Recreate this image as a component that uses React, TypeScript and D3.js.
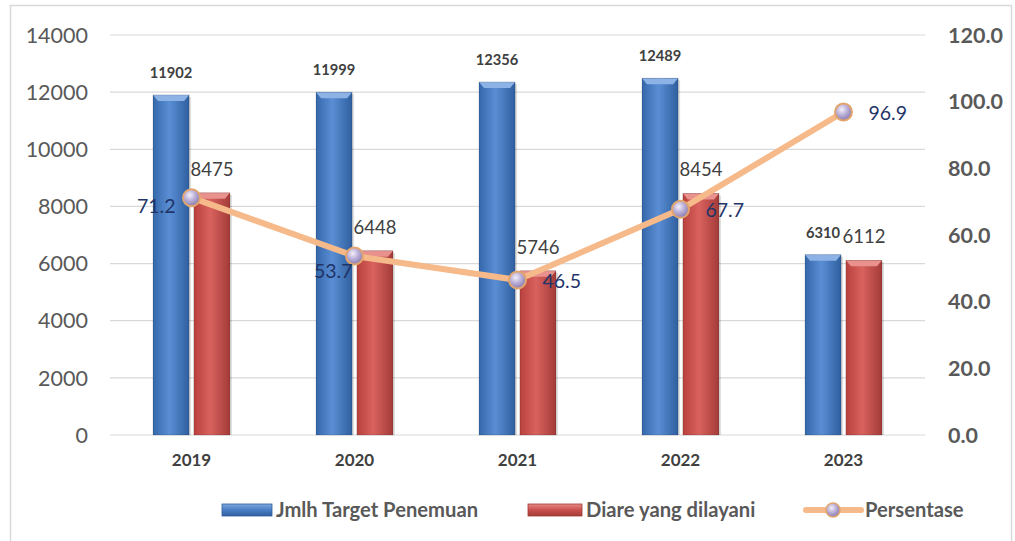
import React from 'react';
import * as d3 from 'd3';

// data
const years = ['2019', '2020', '2021', '2022', '2023'];
const target = [11902, 11999, 12356, 12489, 6310];
const dilayani = [8475, 6448, 5746, 8454, 6112];
const persentase = [71.2, 53.7, 46.5, 67.7, 96.9];
const pctLabelPos = ['left', 'below', 'right', 'right', 'right'];
const leftTicks = [0, 2000, 4000, 6000, 8000, 10000, 12000, 14000];
const rightTicks = [0, 20, 40, 60, 80, 100, 120];

const W = 1015;
const H = 541;
const margin = { top: 35, right: 90, bottom: 106, left: 110 };
const FONT = 'Lato, "Noto Sans", sans-serif';

export default function App() {
  const x = d3.scaleBand().domain(years).range([margin.left, W - margin.right]).padding(0);
  const x1 = d3.scaleBand().domain(['target', 'dilayani']).range([-38.5, 38.5]).paddingInner(0.117);
  const yL = d3.scaleLinear().domain([0, 14000]).range([H - margin.bottom, margin.top]);
  const yR = d3.scaleLinear().domain([0, 120]).range([H - margin.bottom, margin.top]);
  const cx = (yr: string) => (x(yr) || 0) + x.bandwidth() / 2;
  const bw = x1.bandwidth();

  const line = d3.line<number>()
    .x((_, i) => cx(years[i]))
    .y(d => yR(d));

  const bar = (key: string, yr: string, v: number, fill: string, top: string) => {
    const bx = cx(yr) + (x1(key) || 0);
    const by = yL(v);
    const h = yL(0) - by;
    return (
      <g key={key + yr}>
        <rect x={bx + 2} y={by + 2} width={bw} height={h - 2} fill="#000" opacity={0.12} />
        <rect x={bx} y={by} width={bw} height={h} fill={fill} />
        <polygon points={`${bx},${by} ${bx + bw},${by} ${bx + bw - 5},${by + 6} ${bx + 5},${by + 6}`} fill={top} />
        <rect x={bx} y={by} width={bw} height={h} fill="none" stroke="#00000030" strokeWidth={0.8} />
      </g>
    );
  };

  return (
    <div style={{ position: 'absolute', left: 0, top: 0 }}>
      <svg width={W} height={H} style={{ display: 'block', fontFamily: FONT }}>
        <defs>
          <linearGradient id="gBlue" x1="0" x2="1" y1="0" y2="0">
            <stop offset="0" stopColor="#3567AA" />
            <stop offset="0.45" stopColor="#5A8ED4" />
            <stop offset="1" stopColor="#2F5F9F" />
          </linearGradient>
          <linearGradient id="gRed" x1="0" x2="1" y1="0" y2="0">
            <stop offset="0" stopColor="#B8403D" />
            <stop offset="0.45" stopColor="#D9625E" />
            <stop offset="1" stopColor="#A33B38" />
          </linearGradient>
          <radialGradient id="gDot" cx="0.4" cy="0.35" r="0.65">
            <stop offset="0" stopColor="#F4F0FA" />
            <stop offset="0.5" stopColor="#BBB0D8" />
            <stop offset="1" stopColor="#8A7CB0" />
          </radialGradient>
          <linearGradient id="gBlueLeg" x1="0" x2="0" y1="0" y2="1">
            <stop offset="0" stopColor="#7FA8DE" />
            <stop offset="0.5" stopColor="#4A7EC4" />
            <stop offset="1" stopColor="#2F5F9F" />
          </linearGradient>
          <linearGradient id="gRedLeg" x1="0" x2="0" y1="0" y2="1">
            <stop offset="0" stopColor="#E58A86" />
            <stop offset="0.5" stopColor="#C9504C" />
            <stop offset="1" stopColor="#A33B38" />
          </linearGradient>
        </defs>

        <rect x={0} y={0} width={W} height={H} fill="#fff" />
        <rect x={10.5} y={5.5} width={1001} height={560} fill="none" stroke="#D9D9D9" strokeWidth={1.5} />

        {/* gridlines */}
        {leftTicks.map(t => (
          <line key={t} x1={margin.left} x2={W - margin.right} y1={yL(t)} y2={yL(t)} stroke="#D9D9D9" strokeWidth={1.2} />
        ))}

        {/* left axis */}
        {leftTicks.map(t => (
          <text key={'l' + t} x={88} y={yL(t)} dy="0.36em" textAnchor="end" fontSize={21.5} fill="#595959">{t}</text>
        ))}
        {/* right axis */}
        {rightTicks.map(t => (
          <text key={'r' + t} x={948} y={yR(t)} dy="0.36em" fontSize={21.5} fontWeight="bold" fill="#595959">{t.toFixed(1)}</text>
        ))}

        {/* bars */}
        {years.map((yr, i) => bar('target', yr, target[i], 'url(#gBlue)', '#8DB3E6'))}
        {years.map((yr, i) => bar('dilayani', yr, dilayani[i], 'url(#gRed)', '#E8918D'))}

        {/* bar labels */}
        {years.map((yr, i) => (
          <text key={'tl' + yr} x={cx(yr) + (x1('target') || 0) + bw / 2} y={yL(target[i]) - 17} textAnchor="middle" fontSize={14.7} fontWeight="bold" fill="#404040">{target[i]}</text>
        ))}
        {years.map((yr, i) => (
          <text key={'dl' + yr} x={cx(yr) + (x1('dilayani') || 0) + bw / 2} y={yL(dilayani[i]) - 17} textAnchor="middle" fontSize={18.5} fill="#404040">{dilayani[i]}</text>
        ))}

        {/* category labels */}
        {years.map(yr => (
          <text key={'c' + yr} x={cx(yr)} y={466} textAnchor="middle" fontSize={17} fontWeight="bold" fill="#404040">{yr}</text>
        ))}

        {/* persentase line */}
        <path d={line(persentase) || ''} fill="none" stroke="#F5B98A" strokeWidth={6} strokeLinejoin="round" />
        {persentase.map((p, i) => (
          <circle key={'p' + i} cx={cx(years[i])} cy={yR(p)} r={8.5} fill="url(#gDot)" stroke="#E3A56E" strokeWidth={2} />
        ))}
        {persentase.map((p, i) => {
          const px = cx(years[i]);
          const py = yR(p);
          const pos = pctLabelPos[i];
          const lx = pos === 'left' ? px - 16 : pos === 'below' ? px - 2 : px + 25;
          const ly = pos === 'left' ? py + 15 : pos === 'below' ? py + 22 : py + 7.5;
          const anchor = pos === 'right' ? 'start' : 'end';
          return (
            <text key={'pl' + i} x={lx} y={ly} textAnchor={anchor} fontSize={19.5} fill="#1F3468">{p.toFixed(1)}</text>
          );
        })}

        {/* legend */}
        <g fontSize={20.2} fontWeight="bold" fill="#595959">
          <rect x={222} y={504} width={50} height={12} fill="url(#gBlueLeg)" stroke="#2F5F9F" strokeWidth={0.8} />
          <text x={276} y={517}>Jmlh Target Penemuan</text>
          <rect x={528} y={504} width={54} height={12} fill="url(#gRedLeg)" stroke="#A33B38" strokeWidth={0.8} />
          <text x={586} y={517}>Diare yang dilayani</text>
          <line x1={806} x2={861} y1={510} y2={510} stroke="#F5B98A" strokeWidth={6} strokeLinecap="round" />
          <circle cx={833} cy={510} r={7} fill="url(#gDot)" stroke="#E3A56E" strokeWidth={1.5} />
          <text x={865} y={517}>Persentase</text>
        </g>
      </svg>
    </div>
  );
}
